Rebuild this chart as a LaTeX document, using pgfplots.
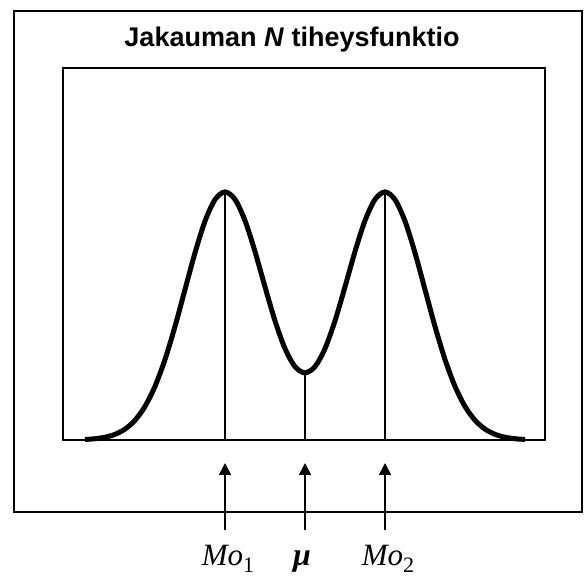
\documentclass[border=0pt]{standalone}
\usepackage{pgfplots}
\pgfplotsset{compat=1.18}
\usepackage{fontspec}
\setmainfont{Liberation Sans}
\newfontfamily\timesf{Liberation Serif}
\usetikzlibrary{arrows.meta}
\pgfplotstableread{
x y
-5.50 0.00219
-5.25 0.00509
-5.00 0.01111
-4.75 0.02279
-4.50 0.04394
-4.25 0.07956
-4.00 0.13534
-3.75 0.21627
-3.50 0.32465
-3.25 0.45783
-3.00 0.60653
-2.75 0.75485
-2.50 0.88254
-2.25 0.96935
-2.00 1.00034
-1.75 0.97011
-1.50 0.88469
-1.25 0.75993
-1.00 0.61764
-0.75 0.48062
-0.50 0.36859
-0.25 0.29583
0.00 0.27067
0.25 0.29583
0.50 0.36859
0.75 0.48062
1.00 0.61764
1.25 0.75993
1.50 0.88469
1.75 0.97011
2.00 1.00034
2.25 0.96935
2.50 0.88254
2.75 0.75485
3.00 0.60653
3.25 0.45783
3.50 0.32465
3.75 0.21627
4.00 0.13534
4.25 0.07956
4.50 0.04394
4.75 0.02279
5.00 0.01111
5.25 0.00509
5.50 0.00219
}\density
\begin{document}
\begin{tikzpicture}
\path (0pt,0pt) rectangle (585pt,573pt);
\draw[line width=2.6pt] (14pt,61pt) rectangle (582pt,562pt);
\node[anchor=base, font=\fontsize{27}{31}\selectfont\bfseries] at (292pt,526pt) {Jakauman \textit{N} tiheysfunktio};
\begin{axis}[
  at={(63pt,133pt)}, anchor=south west,
  scale only axis, width=482pt, height=372pt,
  xmin=-6.05, xmax=6.0, ymin=0, ymax=1.5,
  xtick=\empty, ytick=\empty,
  axis line style={line width=2.6pt},
  clip=false,
]
\addplot[ycomb, no markers, line width=1.2pt, black] coordinates {(-2,1.00034) (0,0.27067) (2,1.00034)};
\addplot[smooth, no markers, line width=5pt, black] table[x=x,y=y] {\density};
\draw[line width=1.8pt, -{Triangle[length=12pt,width=12pt]}] ([yshift=-90pt]axis cs:-2,0) -- ([yshift=-23pt]axis cs:-2,0);
\draw[line width=1.8pt, -{Triangle[length=12pt,width=12pt]}] ([yshift=-90pt]axis cs:0,0) -- ([yshift=-23pt]axis cs:0,0);
\draw[line width=1.8pt, -{Triangle[length=12pt,width=12pt]}] ([yshift=-90pt]axis cs:2,0) -- ([yshift=-23pt]axis cs:2,0);
\node[anchor=base, font=\fontsize{31}{35}\selectfont\timesf] at ([yshift=-125pt,xshift=3pt]axis cs:-2,0) {\textit{Mo}\raisebox{-7pt}{\fontsize{22}{25}\selectfont 1}};
\node[anchor=base, font=\fontsize{32}{35}\selectfont\timesf] at ([yshift=-125pt,xshift=-3pt]axis cs:0,0) {\textbf{\textit{μ}}};
\node[anchor=base, font=\fontsize{31}{35}\selectfont\timesf] at ([yshift=-125pt,xshift=3pt]axis cs:2,0) {\textit{Mo}\raisebox{-7pt}{\fontsize{22}{25}\selectfont 2}};
\end{axis}
\end{tikzpicture}
\end{document}
